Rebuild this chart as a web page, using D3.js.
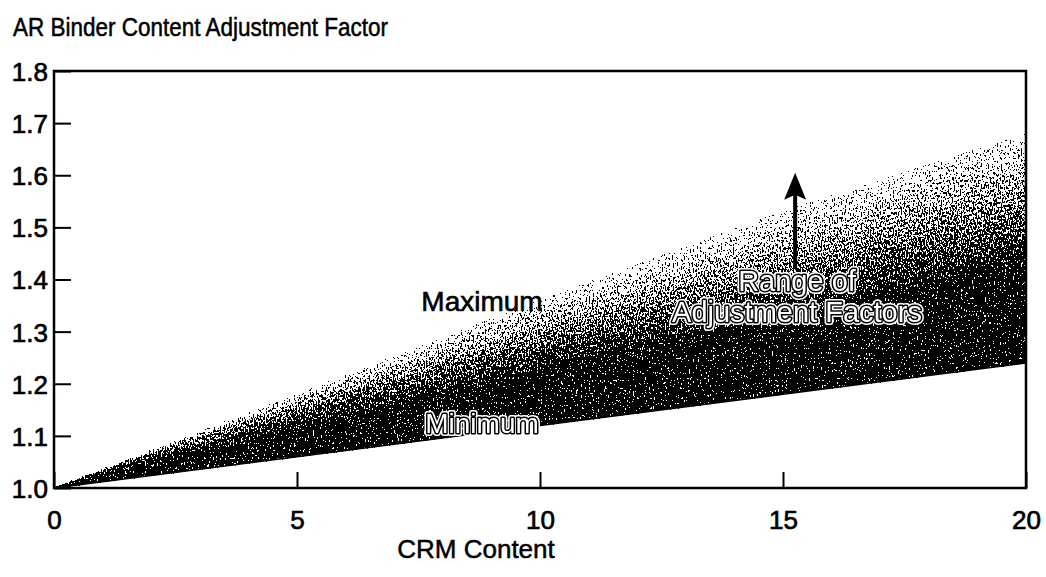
<!DOCTYPE html>
<html>
<head>
<meta charset="utf-8">
<script src="https://cdn.jsdelivr.net/npm/d3@7"></script>
<style>
  html, body { margin: 0; padding: 0; background: #fff; }
  svg { display: block; font-family: "Liberation Sans", Arial, Helvetica, sans-serif; }
</style>
</head>
<body>
<svg id="chart" width="1046" height="577"></svg>
<script>
// CRM content (%) and the band of binder content adjustment factors
const crm = [0, 5, 10, 15, 20];
const minFactor = [1.00, 1.06, 1.12, 1.18, 1.24];
const maxFactor = [1.00, 1.18, 1.36, 1.53, 1.68];

const xTicks = [0, 5, 10, 15, 20];
const yTicks = [1.0, 1.1, 1.2, 1.3, 1.4, 1.5, 1.6, 1.7, 1.8];

const titleText = "AR Binder Content Adjustment Factor";
const xTitle = "CRM Content";
const maxLabel = "Maximum";
const minLabel = "Minimum";
const rangeLabel = ["Range of", "Adjustment Factors"];

// Arrow annotation: from the band up toward larger factors
const arrowCrm = 15.25;
const arrowFrom = 1.42, arrowTo = 1.605;

const svg = d3.select("#chart");
const plotLeft = 54, plotRight = 1026, plotTop = 71, plotBottom = 488;

const x = d3.scaleLinear().domain([0, 20]).range([plotLeft, plotRight]);
const y = d3.scaleLinear().domain([1.0, 1.8]).range([plotBottom, plotTop]);

const rows = crm.map((c, i) => ({ c, lo: minFactor[i], hi: maxFactor[i] }));

// Stipple texture: threshold the band shading against a noise field
const defs = svg.append("defs");
const flt = defs.append("filter").attr("id", "stipple")
  .attr("filterUnits", "userSpaceOnUse")
  .attr("x", 0).attr("y", 0).attr("width", 1046).attr("height", 577)
  .attr("color-interpolation-filters", "sRGB");
flt.append("feTurbulence").attr("type", "fractalNoise")
  .attr("baseFrequency", "0.75 0.4").attr("numOctaves", 2).attr("seed", 3).attr("result", "noise");
flt.append("feColorMatrix").attr("in", "noise").attr("type", "matrix")
  .attr("values", "0 0 0 0 0  0 0 0 0 0  0 0 0 0 0  2.6 0 0 0 -0.8").attr("result", "n");
flt.append("feComposite").attr("in", "SourceGraphic").attr("in2", "n")
  .attr("operator", "arithmetic").attr("k1", 0).attr("k2", 1).attr("k3", -1).attr("k4", 0.49)
  .attr("result", "diff");
const ct = flt.append("feComponentTransfer").attr("in", "diff");
["R", "G", "B"].forEach(ch => ct.append("feFunc" + ch).attr("type", "linear").attr("slope", 0).attr("intercept", 0));
ct.append("feFuncA").attr("type", "discrete").attr("tableValues", "0 1");

// Shaded range between minimum and maximum, darkest near the minimum
const nBands = 48;
const shade = t => {
  if (t < 0.4) return 1;
  if (t < 0.55) return 1 - (t - 0.4) * 2.0;
  if (t < 0.75) return 0.7 - (t - 0.55) * 1.5;
  if (t < 0.9) return 0.4 - (t - 0.75) * 1.33;
  return Math.max(0.2 - (t - 0.9) * 1.5, 0.05);
};
const bands = d3.range(nBands).map(i => [i / nBands, (i + 1) / nBands]);
const gShade = svg.append("g").attr("filter", "url(#stipple)");
gShade.selectAll("path").data(bands).join("path")
  .attr("d", ([a, b]) => d3.area()
    .x(d => x(d.c))
    .y0(d => y(d.lo + a * (d.hi - d.lo)))
    .y1(d => y(d.lo + b * (d.hi - d.lo)))(rows))
  .attr("fill", "#000")
  .attr("fill-opacity", ([a, b]) => shade((a + b) / 2))
  .attr("stroke", "#000")
  .attr("stroke-opacity", ([a, b]) => shade((a + b) / 2))
  .attr("stroke-width", 0.6);

// Solid lower edge along the minimum
svg.append("path")
  .attr("d", d3.line().x(d => x(d.c)).y(d => y(d.lo))(rows))
  .attr("fill", "none").attr("stroke", "#000").attr("stroke-width", 1.5);

// Axes with inward ticks
const yAxis = d3.axisLeft(y).tickValues(yTicks).tickFormat(d3.format(".1f"))
  .tickSizeInner(-17).tickSizeOuter(0).tickPadding(6);
const gy = svg.append("g").attr("transform", `translate(${plotLeft},0)`).call(yAxis);
const xAxis = d3.axisBottom(x).tickValues(xTicks).tickFormat(d3.format("d"))
  .tickSizeInner(-16).tickSizeOuter(0).tickPadding(23);
const gx = svg.append("g").attr("transform", `translate(0,${plotBottom})`).call(xAxis);
[gx, gy].forEach(g => {
  g.select(".domain").remove();
  g.selectAll(".tick line").attr("stroke", "#000").attr("stroke-width", 2);
  g.selectAll(".tick text").attr("fill", "#000").attr("font-size", 26)
    .attr("stroke", "#000").attr("stroke-width", 0.7)
    .attr("font-family", "\"Liberation Sans\", Arial, sans-serif");
});
gy.selectAll(".tick text").attr("dy", "0.36em");

// Plot frame
svg.append("rect")
  .attr("x", plotLeft).attr("y", plotTop).attr("width", plotRight - plotLeft).attr("height", plotBottom - plotTop)
  .attr("fill", "none").attr("stroke", "#000").attr("stroke-width", 2.5);

// Titles
svg.append("text").attr("x", 13).attr("y", 36)
  .attr("font-size", 25).attr("textLength", 375).attr("lengthAdjust", "spacingAndGlyphs")
  .attr("fill", "#000").attr("stroke", "#000").attr("stroke-width", 0.5).text(titleText);
svg.append("text").attr("x", 476).attr("y", 558).attr("text-anchor", "middle")
  .attr("font-size", 26).attr("fill", "#000").attr("stroke", "#000").attr("stroke-width", 0.5)
  .text(xTitle);

// Annotations
svg.append("text").attr("x", 482).attr("y", 311).attr("text-anchor", "middle")
  .attr("font-size", 28).attr("fill", "#000").attr("stroke", "#000").attr("stroke-width", 0.6)
  .text(maxLabel);

function outlined(tx, ty, str, size) {
  const g = svg.append("g").attr("font-size", size).attr("text-anchor", "middle")
    .attr("opacity", 0.999);
  g.append("text").attr("x", tx).attr("y", ty).attr("fill", "#fff")
    .attr("stroke", "#fff").attr("stroke-width", 6).attr("stroke-linejoin", "round").text(str);
  g.append("text").attr("x", tx).attr("y", ty).attr("fill", "#fff")
    .attr("stroke", "#000").attr("stroke-width", 3).attr("stroke-linejoin", "round")
    .attr("paint-order", "stroke").text(str);
}
outlined(482, 433, minLabel, 28);
outlined(797, 291, rangeLabel[0], 29);
outlined(797, 322, rangeLabel[1], 29);

// Arrow: shaft and filled head
const ax = x(arrowCrm), ayTip = y(arrowTo), ayBase = y(arrowFrom);
svg.append("line").attr("x1", ax).attr("x2", ax).attr("y1", ayBase).attr("y2", ayTip + 20)
  .attr("stroke", "#000").attr("stroke-width", 4);
svg.append("path")
  .attr("d", d3.line()([[ax, ayTip], [ax + 11, ayTip + 27], [ax, ayTip + 22], [ax - 11, ayTip + 27]]) + "Z")
  .attr("fill", "#000");
</script>
</body>
</html>
